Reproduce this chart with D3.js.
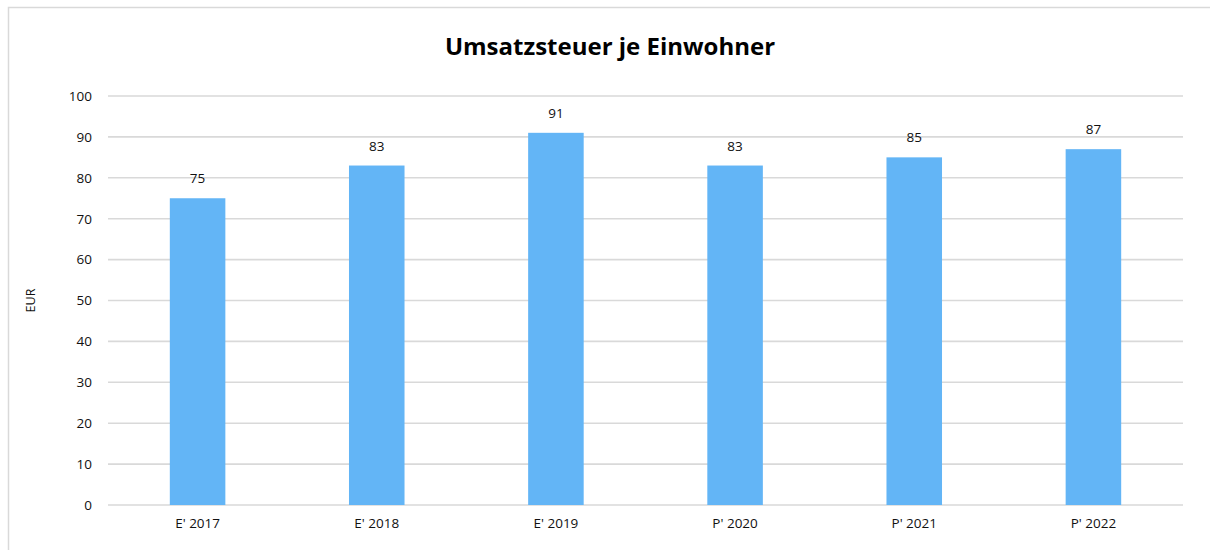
<!DOCTYPE html>
<html>
<head>
<meta charset="utf-8">
<script src="https://cdn.jsdelivr.net/npm/d3@7"></script>
<style>
  body { margin: 0; background: #fff; }
  text { font-family: "Open Sans", "Liberation Sans", sans-serif; }
</style>
</head>
<body>
<svg id="chart" width="1210" height="550"></svg>
<script>
  // data
  var categories = ["E' 2017", "E' 2018", "E' 2019", "P' 2020", "P' 2021", "P' 2022"];
  var values = [75, 83, 91, 83, 85, 87];
  var yTicks = [0, 10, 20, 30, 40, 50, 60, 70, 80, 90, 100];
  var chartTitle = "Umsatzsteuer je Einwohner";
  var yTitle = "EUR";

  var width = 1210, height = 550;
  var margin = { left: 108, right: 27, top: 96, bottom: 45 };

  var svg = d3.select("#chart");

  // chart frame (extends past the picture on right and bottom)
  svg.append("rect")
    .attr("x", 8.5).attr("y", 7.5)
    .attr("width", 1300).attr("height", 700)
    .attr("fill", "#fff")
    .attr("stroke", "#d9d9d9")
    .attr("stroke-width", 1.5);

  var x = d3.scaleBand()
    .domain(categories)
    .range([margin.left, width - margin.right])
    .paddingInner(0.69)
    .paddingOuter(0.345);

  var y = d3.scaleLinear()
    .domain([0, 100])
    .range([height - margin.bottom, margin.top]);

  // gridlines
  svg.append("g")
    .selectAll("line")
    .data(yTicks)
    .enter().append("line")
      .attr("x1", margin.left)
      .attr("x2", width - margin.right)
      .attr("y1", function(d){ return y(d); })
      .attr("y2", function(d){ return y(d); })
      .attr("stroke", "#d9d9d9")
      .attr("stroke-width", 1.6);

  // y axis labels
  var yAxis = d3.axisLeft(y).tickValues(yTicks).tickSize(0).tickPadding(16);
  var gy = svg.append("g")
    .attr("transform", "translate(" + margin.left + ",0)")
    .call(yAxis);
  gy.select(".domain").remove();
  gy.selectAll("text").attr("font-size", 13.5).attr("fill", "#111")
    .attr("font-family", "'Open Sans', sans-serif");

  // x axis labels
  var xAxis = d3.axisBottom(x).tickSize(0).tickPadding(13);
  var gx = svg.append("g")
    .attr("transform", "translate(0," + y(0) + ")")
    .call(xAxis);
  gx.select(".domain").remove();
  gx.selectAll("text").attr("font-size", 13.5).attr("fill", "#111")
    .attr("font-family", "'Open Sans', sans-serif");

  // bars
  svg.append("g")
    .selectAll("rect")
    .data(values)
    .enter().append("rect")
      .attr("x", function(d, i){ return x(categories[i]); })
      .attr("y", function(d){ return y(d); })
      .attr("width", x.bandwidth())
      .attr("height", function(d){ return y(0) - y(d); })
      .attr("fill", "#63b5f6");

  // value labels
  svg.append("g")
    .selectAll("text")
    .data(values)
    .enter().append("text")
      .attr("x", function(d, i){ return x(categories[i]) + x.bandwidth() / 2; })
      .attr("y", function(d){ return y(d) - 15; })
      .attr("text-anchor", "middle")
      .attr("font-size", 13.5)
      .attr("fill", "#111")
      .text(function(d){ return d; });

  // title
  svg.append("text")
    .attr("x", 610).attr("y", 55)
    .attr("text-anchor", "middle")
    .attr("font-size", 24)
    .attr("font-weight", "bold")
    .attr("fill", "#000")
    .text(chartTitle);

  // y title
  svg.append("text")
    .attr("transform", "translate(35," + y(50) + ") rotate(-90)")
    .attr("text-anchor", "middle")
    .attr("font-size", 12.5)
    .attr("fill", "#111")
    .text(yTitle);
</script>
</body>
</html>
